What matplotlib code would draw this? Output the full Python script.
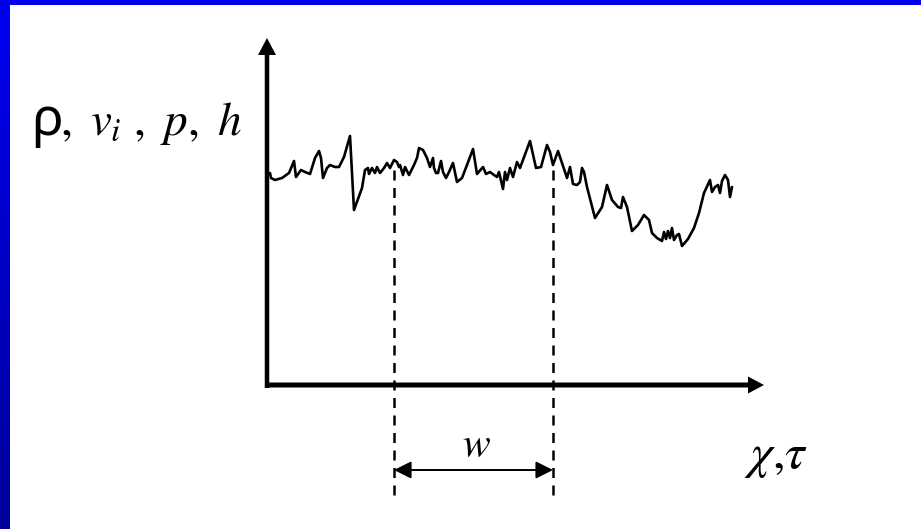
import numpy as np
import matplotlib
matplotlib.use("Agg")
import matplotlib.pyplot as plt
from matplotlib.patches import FancyArrow, Rectangle
from matplotlib.colors import LinearSegmentedColormap

# Fluctuating signal sampled along the chi/tau axis (x: distance from origin, y: signal level)
signal_x = [3, 4, 8, 15, 22, 27, 29, 34, 38, 43, 48, 52, 54, 56, 60, 63, 68, 72, 77, 83,
            87, 95, 98, 101, 102, 105, 108, 110, 113, 117, 120, 123, 127, 130, 132, 133, 136,
            138, 142, 147, 150, 152, 156, 160, 163, 166, 167, 169, 171, 174, 176, 179, 182,
            186, 190, 195, 200, 206, 210, 216, 219, 223, 227, 230, 232, 236, 238, 240, 243,
            246, 250, 253, 263, 269, 274, 280, 283, 286, 291, 300, 303, 306, 310, 313, 315,
            317, 320, 328, 335, 340, 345, 351, 354, 356, 360, 365, 371, 377, 382, 385, 390,
            395, 397, 399, 401, 403, 405, 407, 410, 412, 415, 421, 427, 432, 437, 443, 445,
            448, 451, 453, 455, 458, 461, 463, 465]
signal_y = [212, 207, 205, 207, 212, 224, 208, 215, 213, 211, 227, 234, 227, 207, 217, 220,
            218, 218, 228, 249, 175, 197, 215, 217, 211, 217, 212, 218, 212, 217, 222, 217,
            225, 223, 218, 220, 210, 218, 210, 220, 227, 237, 235, 227, 218, 227, 217, 212,
            212, 224, 213, 207, 213, 222, 203, 207, 220, 236, 211, 218, 211, 213, 210, 208,
            213, 196, 213, 205, 217, 208, 223, 217, 244, 217, 218, 240, 233, 220, 234, 207,
            218, 201, 200, 203, 217, 213, 198, 167, 178, 200, 185, 178, 177, 188, 178, 154,
            160, 170, 165, 152, 147, 144, 153, 146, 154, 147, 157, 145, 150, 151, 139, 146,
            157, 172, 192, 205, 193, 198, 200, 192, 204, 210, 205, 188, 198]

# Averaging window bounds on the chi/tau axis
window_start = 127
window_end = 286

axis_label_y = "ρ"
axis_label_y_rest = r"$,\ v_i\ ,\ p,\ h$"
axis_label_x = r"$\chi{,}\tau$"
window_label = r"$w$"

plt.rcParams["mathtext.fontset"] = "stix"

fig = plt.figure(figsize=(9.21, 5.29), dpi=100)
ax = fig.add_axes([0, 0, 1, 1])
ax.set_xlim(-267, 654)
ax.set_ylim(-144, 385)
ax.axis("off")

# Slide frame: gradient band on the left, solid band at the top
frame_cmap = LinearSegmentedColormap.from_list("frame", ["#00009a", "#0000f2"])
grad = np.linspace(0, 1, 256).reshape(-1, 1)
ax.imshow(grad, cmap=frame_cmap, extent=(-267, -257, -144, 385), origin="lower",
          aspect="auto", zorder=5)
ax.add_patch(Rectangle((-267, 380), 921, 6, color="#0000ee", lw=0, zorder=5))

# Coordinate axes with arrow heads
ax.add_patch(FancyArrow(0, -3, 0, 350, width=4.5, head_width=18, head_length=17,
                        length_includes_head=True, color="black", lw=0))
ax.add_patch(FancyArrow(-2, 0, 499, 0, width=5, head_width=17, head_length=16,
                        length_includes_head=True, color="black", lw=0))

# Signal trace
ax.plot(signal_x, signal_y, color="black", lw=1.9, solid_joinstyle="round",
        solid_capstyle="round")

# Window boundaries
ax.plot([window_start, window_start], [-110, 218], color="black", lw=1.8,
        linestyle=(0, (4, 3)))
ax.plot([window_end, window_end], [-110, 222], color="black", lw=1.8,
        linestyle=(0, (4, 3)))

# Window width arrow
ax.annotate("", xy=(window_end, -85), xytext=(window_start, -85),
            arrowprops=dict(arrowstyle="<|-|>", color="black", lw=1.4,
                            mutation_scale=26, shrinkA=0, shrinkB=0))
ax.text((window_start + window_end) / 2 + 3, -72, window_label, fontsize=30,
        ha="center", va="baseline")

# Axis labels
ax.text(-236, 250, axis_label_y, fontsize=38, family="Noto Sans",
        ha="left", va="baseline")
ax.text(-207, 250, axis_label_y_rest, fontsize=34, ha="left", va="baseline")
ax.text(509, -83, axis_label_x, fontsize=36, ha="center", va="baseline")

fig.savefig("out.png", dpi=100)
